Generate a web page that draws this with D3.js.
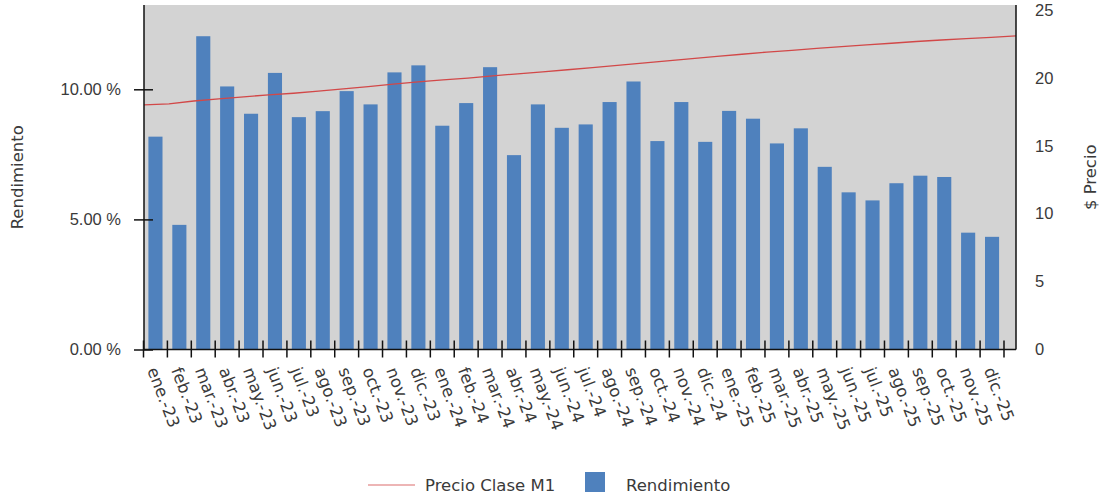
<!DOCTYPE html>
<html>
<head>
<meta charset="utf-8">
<script src="https://cdn.jsdelivr.net/npm/d3@7"></script>
<style>
  html, body { margin: 0; padding: 0; background: #fff; }
  svg { display: block; font-family: "DejaVu Sans", Verdana, sans-serif; }
</style>
</head>
<body>
<svg id="chart" width="1104" height="497"></svg>
<script>
// Monthly categories
const months = [
  "ene.-23","feb.-23","mar.-23","abr.-23","may.-23","jun.-23","jul.-23","ago.-23","sep.-23","oct.-23","nov.-23","dic.-23",
  "ene.-24","feb.-24","mar.-24","abr.-24","may.-24","jun.-24","jul.-24","ago.-24","sep.-24","oct.-24","nov.-24","dic.-24",
  "ene.-25","feb.-25","mar.-25","abr.-25","may.-25","jun.-25","jul.-25","ago.-25","sep.-25","oct.-25","nov.-25","dic.-25"
];

// Rendimiento (%)
const rendimiento = [
  8.18, 4.79, 12.04, 10.11, 9.06, 10.63, 8.93, 9.16, 9.93, 9.42, 10.65, 10.92,
  8.60, 9.47, 10.85, 7.47, 9.42, 8.52, 8.65, 9.51, 10.30, 8.01, 9.51, 7.98,
  9.17, 8.87, 7.92, 8.50, 7.02, 6.04, 5.73, 6.39, 6.68, 6.63, 4.49, 4.33
];

// Precio Clase M1 ($)
const precio = [
  18.01, 18.09, 18.30, 18.46, 18.61, 18.75, 18.87, 19.03, 19.19, 19.35, 19.54, 19.71,
  19.86, 19.99, 20.15, 20.30, 20.45, 20.60, 20.76, 20.92, 21.09, 21.26, 21.42, 21.58,
  21.74, 21.90, 22.03, 22.17, 22.30, 22.43, 22.55, 22.68, 22.79, 22.89, 22.99, 23.09
];

// Axis ticks
const leftTicks = [0, 5, 10];
const rightTicks = [0, 5, 10, 15, 20, 25];

const svg = d3.select("#chart");
const plot = { left: 144, right: 1016, top: 5, bottom: 349.5 };
const textColor = "#3a3a3a";
const barColor = "#4f81bd";
const lineColor = "#d24848";

// Scales
const x = d3.scaleBand().domain(months).range([143.5, 1004])
  .paddingInner(0.41).paddingOuter(0.205);
const xLine = d3.scalePoint().domain(months).range([plot.left, plot.right]);
const yLeft = d3.scaleLinear().domain([0, 10]).range([plot.bottom, 89.3]);
const yRight = d3.scaleLinear().domain([0, 25]).range([plot.bottom, 10]);

// Plot background
svg.append("rect")
  .attr("x", plot.left).attr("y", plot.top)
  .attr("width", plot.right - plot.left).attr("height", plot.bottom - plot.top)
  .attr("fill", "#d3d3d3");

// Bars
svg.append("g").selectAll("rect")
  .data(months)
  .join("rect")
  .attr("x", d => x(d))
  .attr("width", x.bandwidth())
  .attr("y", (d, i) => yLeft(rendimiento[i]))
  .attr("height", (d, i) => plot.bottom - yLeft(rendimiento[i]))
  .attr("fill", barColor);

// Price line
const line = d3.line()
  .x((d, i) => xLine(months[i]))
  .y(d => yRight(d));
svg.append("path")
  .datum(precio)
  .attr("d", line)
  .attr("fill", "none")
  .attr("stroke", lineColor)
  .attr("stroke-width", 1.3);

// Left axis
const gLeft = svg.append("g")
  .attr("transform", `translate(${plot.left},0)`)
  .call(d3.axisLeft(yLeft).tickValues(leftTicks)
    .tickFormat(v => d3.format(".2f")(v) + " %")
    .tickSizeInner(10).tickSizeOuter(0).tickPadding(13));
gLeft.select(".domain").attr("d", `M0,${plot.top}V${plot.bottom}`)
  .attr("stroke", "#111").attr("stroke-width", 1.5);
gLeft.selectAll(".tick line").attr("x1", 9).attr("stroke", "#111").attr("stroke-width", 1.5);
gLeft.selectAll(".tick text")
  .attr("fill", textColor).style("font-size", "16.5px");

// Right axis
const gRight = svg.append("g")
  .attr("transform", `translate(${plot.right},0)`)
  .call(d3.axisRight(yRight).tickValues(rightTicks)
    .tickSizeInner(0).tickSizeOuter(0).tickPadding(19));
gRight.select(".domain").attr("d", `M0,${plot.top}V${plot.bottom}`)
  .attr("stroke", "#111").attr("stroke-width", 1.5);
gRight.selectAll(".tick text")
  .attr("fill", textColor).style("font-size", "16.5px");

// Bottom axis: ticks at category boundaries, labels rotated
const gBottom = svg.append("g");
gBottom.append("line")
  .attr("x1", plot.left).attr("x2", plot.right)
  .attr("y1", plot.bottom).attr("y2", plot.bottom)
  .attr("stroke", "#111").attr("stroke-width", 1.5);
const step = x.step();
const boundaries = d3.range(months.length + 1).map(i => x(months[0]) - x.paddingInner() * step / 2 + i * step);
gBottom.selectAll("line.tk")
  .data(boundaries)
  .join("line")
  .attr("class", "tk")
  .attr("x1", d => d).attr("x2", d => d)
  .attr("y1", plot.bottom - 9).attr("y2", plot.bottom + 8)
  .attr("stroke", "#111").attr("stroke-width", 1.5);
gBottom.selectAll("text")
  .data(months)
  .join("text")
  .attr("transform", d => `translate(${x(d) + x.bandwidth() / 2 - 3},368) rotate(69)`)
  .attr("dy", "0.35em")
  .attr("fill", textColor)
  .style("font-size", "16.5px")
  .text(d => d);

// Axis titles
svg.append("text")
  .attr("transform", `translate(23,${(plot.top + plot.bottom) / 2}) rotate(-90)`)
  .attr("text-anchor", "middle")
  .attr("fill", textColor)
  .style("font-size", "16.5px")
  .text("Rendimiento");
svg.append("text")
  .attr("transform", `translate(1096,${(plot.top + plot.bottom) / 2}) rotate(-90)`)
  .attr("text-anchor", "middle")
  .attr("fill", textColor)
  .style("font-size", "16.5px")
  .text("$ Precio");

// Legend
const legend = svg.append("g");
legend.append("line")
  .attr("x1", 368).attr("x2", 415).attr("y1", 485).attr("y2", 485)
  .attr("stroke", "#e79c9c").attr("stroke-width", 1.5);
legend.append("text")
  .attr("x", 425).attr("y", 485).attr("dy", "0.35em")
  .attr("fill", textColor).style("font-size", "16.5px")
  .text("Precio Clase M1");
legend.append("rect")
  .attr("x", 585).attr("y", 472).attr("width", 20).attr("height", 20)
  .attr("fill", barColor);
legend.append("text")
  .attr("x", 626).attr("y", 485).attr("dy", "0.35em")
  .attr("fill", textColor).style("font-size", "16.5px")
  .text("Rendimiento");
</script>
</body>
</html>
